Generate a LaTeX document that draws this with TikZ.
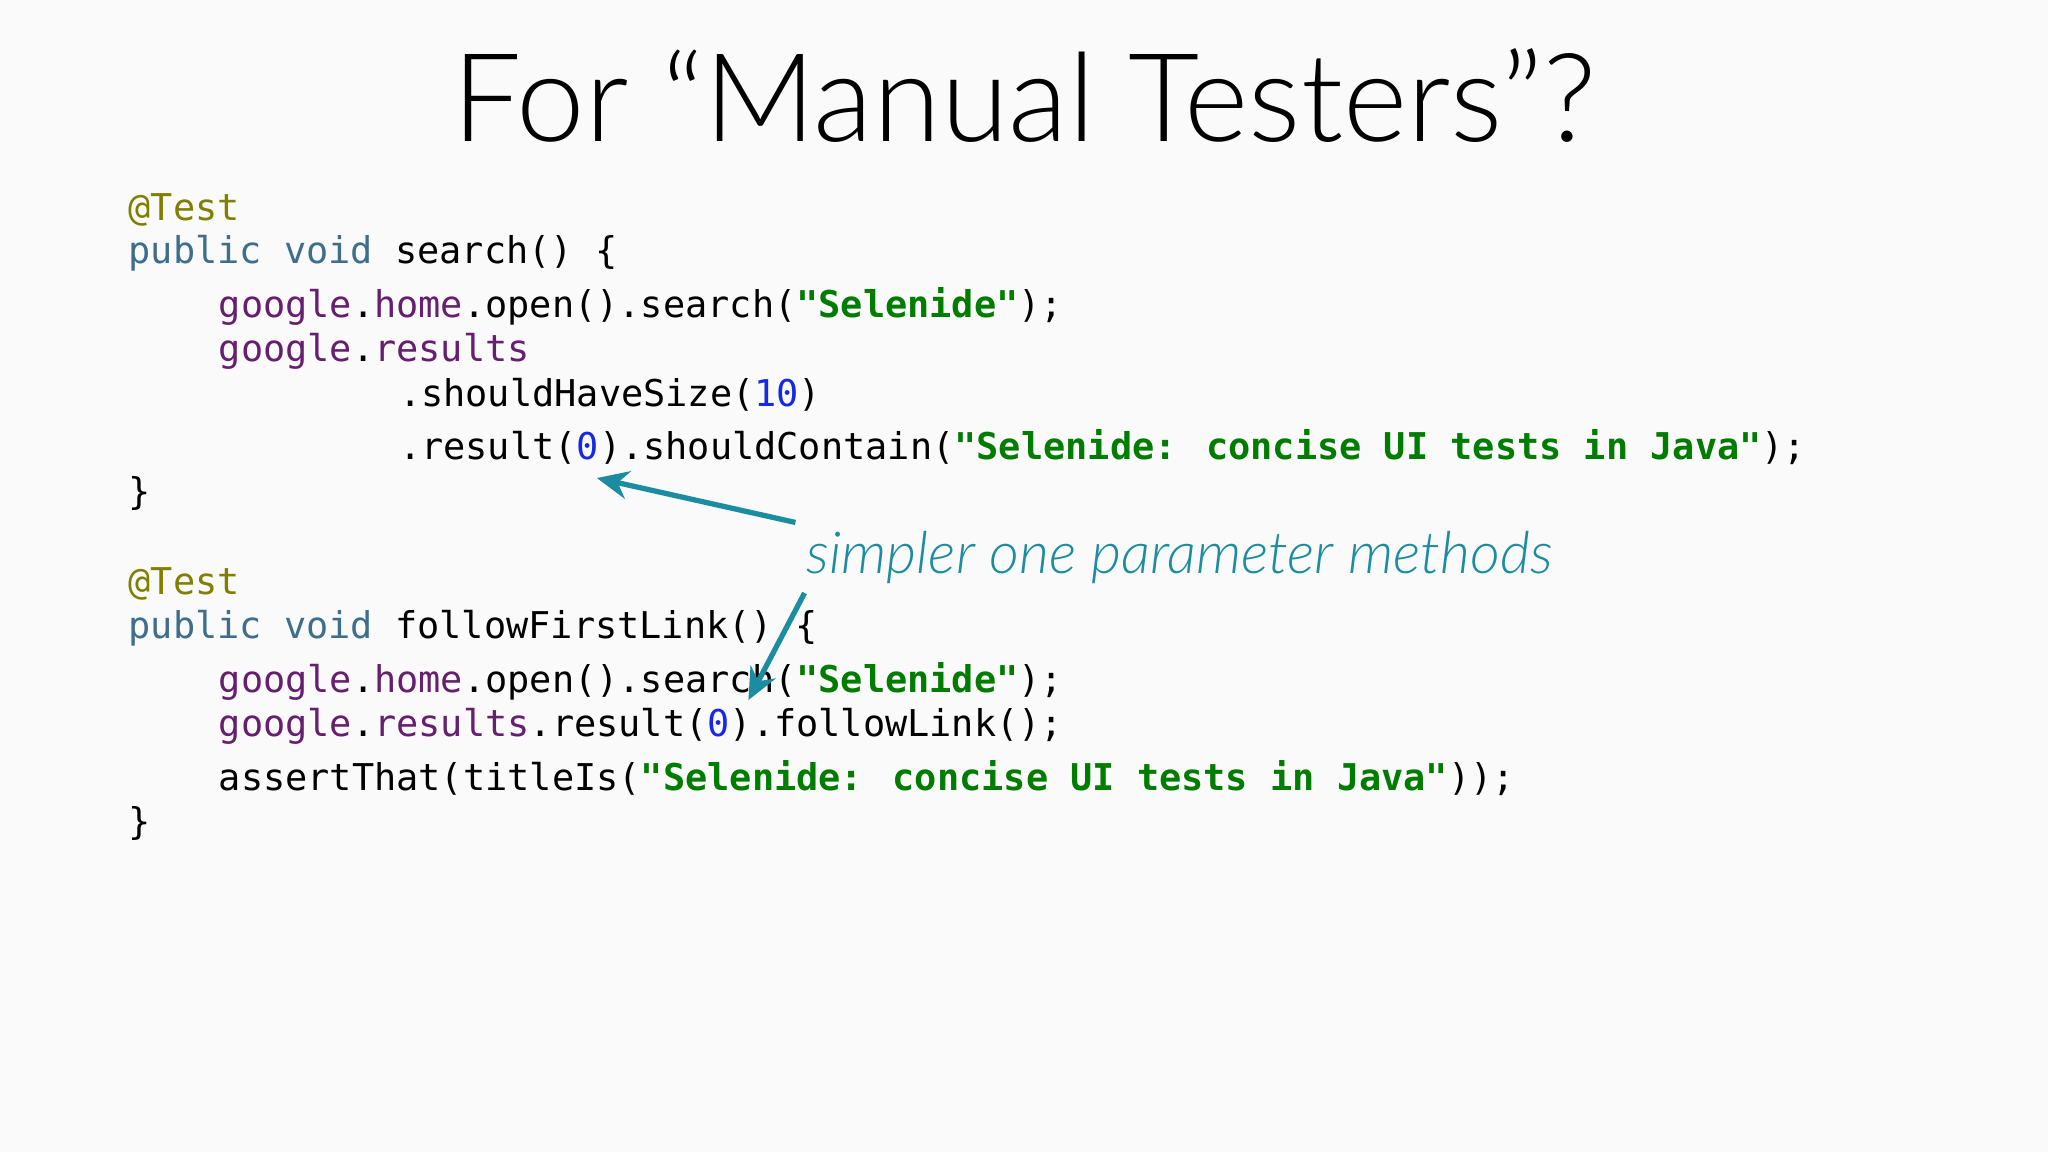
\documentclass[tikz,border=0pt]{standalone}
\usepackage{fontspec}
\setmainfont{Lato}
\newfontfamily\lightfont{Lato Light}
\newfontfamily\codefont{DejaVu Sans Mono}
\usetikzlibrary{arrows.meta}
\definecolor{bg}{RGB}{250,250,250}
\definecolor{anno}{RGB}{28,140,160}
\definecolor{ann}{RGB}{128,128,0}
\definecolor{kwc}{RGB}{62,110,140}
\definecolor{puc}{RGB}{102,30,110}
\definecolor{stc}{RGB}{0,125,0}
\definecolor{nmc}{RGB}{20,40,230}
\newcommand{\an}[1]{\textcolor{ann}{#1}}
\newcommand{\kw}[1]{\textcolor{kwc}{#1}}
\newcommand{\pu}[1]{\textcolor{puc}{#1}}
\newcommand{\st}[1]{\textcolor{stc}{\bfseries #1}}
\newcommand{\nm}[1]{\textcolor{nmc}{#1}}
\tikzset{code/.style={anchor=base west,inner sep=0pt,font=\codefont\fontsize{10.5pt}{12pt}\selectfont},
 arr/.style={draw=anno,line width=1.5pt,-{Stealth[length=9pt,width=8pt]}}}
\begin{document}
\begin{tikzpicture}[x=0.013061cm,y=-0.013061cm]
\fill[bg] (0,0) rectangle (1568,882);
\node[anchor=base,inner sep=0pt,font=\lightfont\fontsize{35pt}{40pt}\selectfont] (title) at (784,108) {For “Manual Testers”?};
\node[code] (l1) at (98,169) {\an{@Test}};
\node[code] (l2) at (98,202) {\kw{public void} search() \{};
\node[code] (l3) at (167,243) {\pu{google}.\pu{home}.open().search(\st{"Selenide"});};
\node[code] (l4) at (167,277) {\pu{google}.\pu{results}};
\node[code] (l5) at (305,311) {.shouldHaveSize(\nm{10})};
\node[code] (l6) at (305,352) {.result(\nm{0}).shouldContain(\st{"Selenide: concise UI tests in Java"});};
\node[code] (l7) at (98,386) {\}};
\node[code] (l8) at (98,455) {\an{@Test}};
\node[code] (l9) at (98,489) {\kw{public void} followFirstLink() \{};
\node[code] (l10) at (167,530) {\pu{google}.\pu{home}.open().search(\st{"Selenide"});};
\node[code] (l11) at (167,564) {\pu{google}.\pu{results}.result(\nm{0}).followLink();};
\node[code] (l12) at (167,605) {assertThat(titleIs(\st{"Selenide: concise UI tests in Java"}));};
\node[code] (l13) at (98,639) {\}};
\node[anchor=base west,inner sep=0pt,text=anno,font=\lightfont\itshape\fontsize{16.5pt}{18pt}\selectfont] (note) at (617,439) {simpler one parameter methods};
\coordinate (a1s) at (609,400); \coordinate (a1e) at (457,366);
\coordinate (a2s) at (616,454); \coordinate (a2e) at (573,536);
\draw[arr] (a1s) -- (a1e);
\draw[arr] (a2s) -- (a2e);
\end{tikzpicture}
\end{document}
